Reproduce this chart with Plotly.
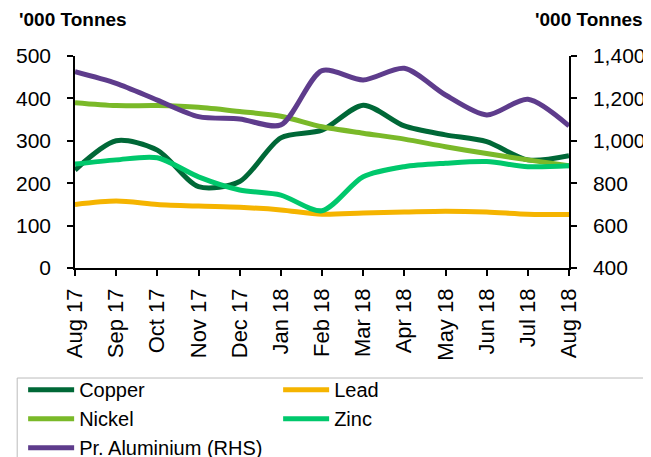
import plotly.graph_objects as go

months = ["Aug 17", "Sep 17", "Oct 17", "Nov 17", "Dec 17", "Jan 18", "Feb 18",
          "Mar 18", "Apr 18", "May 18", "Jun 18", "Jul 18", "Aug 18"]

copper = [231, 300, 278, 192, 204, 307, 325, 384, 335, 314, 298, 255, 265]
lead = [150, 158, 150, 146, 143, 137, 127, 130, 132, 134, 132, 127, 126]
nickel = [390, 383, 383, 379, 369, 358, 333, 318, 304, 286, 270, 255, 241]
zinc = [245, 255, 260, 215, 184, 172, 135, 215, 239, 247, 251, 239, 241]
aluminium = [1326, 1271, 1192, 1114, 1103, 1075, 1331, 1287, 1342, 1216, 1122, 1196, 1070]

fig = go.Figure()

series = [
    ("Copper", copper, "#006837", "y"),
    ("Lead", lead, "#F5B400", "y"),
    ("Nickel", nickel, "#7AB929", "y"),
    ("Zinc", zinc, "#00C86C", "y"),
    ("Pr. Aluminium (RHS)", aluminium, "#5E3C8C", "y2"),
]
for name, vals, col, ax in series:
    fig.add_trace(go.Scatter(
        x=months, y=vals, name=name, yaxis=ax, mode="lines",
        line=dict(color=col, width=5, shape="spline", smoothing=0.8),
    ))

font = "Liberation Sans, Arial, sans-serif"
axis_style = dict(showline=True, linecolor="black", linewidth=1.5,
                  ticks="outside", ticklen=6, tickcolor="black", tickwidth=1.5,
                  showgrid=False, zeroline=False)

# page body adds an 8px offset, so the figure is a bit smaller than the window
fig.update_layout(
    width=643, height=449,
    margin=dict(l=67, r=82, t=48, b=189, autoexpand=False),
    paper_bgcolor="white", plot_bgcolor="white",
    font=dict(family=font, size=21, color="black"),
    xaxis=dict(**axis_style, tickangle=-90, range=[0, 12],
               tickfont=dict(size=22), ticklabelstandoff=4),
    yaxis=dict(**axis_style, range=[0, 500], dtick=100,
               tickfont=dict(size=21), ticklabelstandoff=12),
    yaxis2=dict(**axis_style, range=[400, 1400], dtick=200, overlaying="y", side="right",
                tickformat=",", tickfont=dict(size=21), ticklabelstandoff=12),
    showlegend=True,
    legend=dict(
        orientation="h", x=-0.105, y=-0.482, xanchor="left", yanchor="top",
        entrywidth=194, entrywidthmode="pixels", tracegroupgap=0,
        font=dict(size=20), itemwidth=46, traceorder="normal",
        bgcolor="rgba(0,0,0,0)",
    ),
    shapes=[dict(
        type="rect", xref="paper", yref="paper",
        x0=-0.117, x1=1.16, y0=-0.95, y1=-0.519,
        line=dict(color="#BBBBBB", width=1),
    )],
    annotations=[
        dict(text="<b>'000 Tonnes</b>", xref="paper", yref="paper", x=-0.117, y=1.17,
             xanchor="left", yanchor="middle", showarrow=False, font=dict(size=19)),
        dict(text="<b>'000 Tonnes</b>", xref="paper", yref="paper", x=1.154, y=1.17,
             xanchor="right", yanchor="middle", showarrow=False, font=dict(size=19)),
    ],
)

fig.write_html("out.html")
